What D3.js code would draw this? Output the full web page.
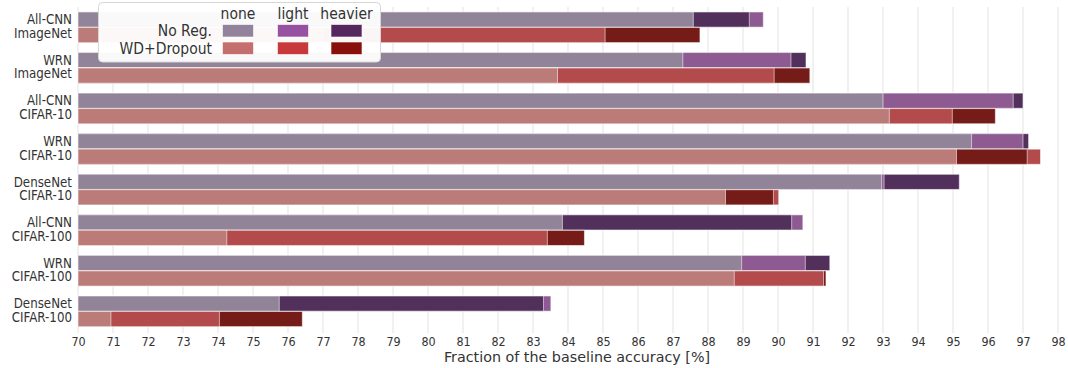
<!DOCTYPE html>
<html>
<head>
<meta charset="utf-8">
<script src="https://cdn.jsdelivr.net/npm/d3@7"></script>
<style>
  body { margin: 0; background: #fff; }
  svg { font-family: "DejaVu Sans", sans-serif; }
</style>
</head>
<body>
<svg id="chart" width="1068" height="368"></svg>
<script>
// models / datasets (one group per pair)
var models = ["All-CNN", "WRN", "All-CNN", "WRN", "DenseNet", "All-CNN", "WRN", "DenseNet"];
var datasets = ["ImageNet", "ImageNet", "CIFAR-10", "CIFAR-10", "CIFAR-10", "CIFAR-100", "CIFAR-100", "CIFAR-100"];

// No Reg. series
var noRegNone    = [87.58, 87.28, 93.00, 95.53, 92.96, 83.84, 88.96, 75.75];
var noRegLight   = [89.58, 90.37, 96.72, 97.00, 93.03, 90.71, 90.78, 83.51];
var noRegHeavier = [89.18, 90.80, 97.00, 97.16, 95.18, 90.39, 91.48, 83.30];

// WD+Dropout series
var wdNone    = [77.00, 83.70, 93.18, 95.10, 88.50, 74.25, 88.75, 70.94];
var wdLight   = [85.06, 89.89, 94.98, 97.50, 90.02, 83.41, 91.30, 74.04];
var wdHeavier = [87.77, 90.91, 96.21, 97.12, 89.87, 84.47, 91.37, 76.41];

var xTicks = d3.range(70, 99);
var levels = ["none", "light", "heavier"];
var seriesNames = ["No Reg.", "WD+Dropout"];

var barColors = {
  "No Reg.":    {none: "#928498", light: "#8d5a92", heavier: "#51305c"},
  "WD+Dropout": {none: "#bb7b79", light: "#b34b4c", heavier: "#761c18"}
};
var legendColors = {
  "No Reg.":    {none: "#92829c", light: "#9651a0", heavier: "#54275f"},
  "WD+Dropout": {none: "#c46e6e", light: "#c8393b", heavier: "#880f0b"}
};

var svg = d3.select("#chart");
var x = d3.scaleLinear().domain([70, 98]).range([78, 1058]);

var y = d3.scaleBand()
  .domain(d3.range(models.length))
  .range([7, 331.6])
  .paddingInner(0.23)
  .paddingOuter(0.115);

var sub = d3.scaleBand()
  .domain(seriesNames)
  .range([0, y.bandwidth()])
  .padding(0.02);

// grid
svg.append("g").selectAll("line")
  .data(xTicks)
  .enter().append("line")
  .attr("x1", function(d) { return x(d); })
  .attr("x2", function(d) { return x(d); })
  .attr("y1", 7)
  .attr("y2", 333)
  .attr("stroke", "#e3e3e3")
  .attr("stroke-width", 1);

// x axis
var xAxis = svg.append("g")
  .attr("transform", "translate(0,333)")
  .call(d3.axisBottom(x).tickValues(xTicks).tickFormat(d3.format("d")).tickSize(0).tickPadding(4));
xAxis.select(".domain").remove();
xAxis.selectAll("text")
  .attr("font-size", 12.7)
  .attr("font-family", "DejaVu Sans")
  .attr("fill", "#333")
  .attr("transform", "scale(0.88,1)");

svg.append("text")
  .attr("x", 577)
  .attr("y", 362)
  .attr("text-anchor", "middle")
  .attr("font-size", 14.3)
  .attr("fill", "#333")
  .text("Fraction of the baseline accuracy [%]");

// bars
var rows = [];
models.forEach(function(m, i) {
  var vals = {
    "No Reg.": [["none", noRegNone[i]], ["light", noRegLight[i]], ["heavier", noRegHeavier[i]]],
    "WD+Dropout": [["none", wdNone[i]], ["light", wdLight[i]], ["heavier", wdHeavier[i]]]
  };
  seriesNames.forEach(function(s) {
    // longest first so shorter ones sit on top
    vals[s].slice().sort(function(a, b) { return b[1] - a[1]; }).forEach(function(v) {
      rows.push({group: i, series: s, level: v[0], value: v[1]});
    });
  });
});

svg.append("g").selectAll("rect")
  .data(rows)
  .enter().append("rect")
  .attr("x", x(70))
  .attr("y", function(d) { return y(d.group) + sub(d.series); })
  .attr("width", function(d) { return x(d.value) - x(70); })
  .attr("height", sub.bandwidth())
  .attr("fill", function(d) { return barColors[d.series][d.level]; })
  .attr("stroke", "#fff")
  .attr("stroke-opacity", 0.55)
  .attr("stroke-width", 1);

// y labels (slightly condensed like the reference)
var ylab = svg.append("g").selectAll("g")
  .data(models)
  .enter().append("g")
  .attr("transform", function(d, i) {
    return "translate(72," + (y(i) + y.bandwidth() / 2) + ") scale(0.9,1)";
  });
ylab.append("text")
  .attr("text-anchor", "end")
  .attr("font-size", 13.2)
  .attr("fill", "#333")
  .attr("y", -3)
  .text(function(d) { return d; });
ylab.append("text")
  .attr("text-anchor", "end")
  .attr("font-size", 13.2)
  .attr("fill", "#333")
  .attr("y", 10.6)
  .text(function(d, i) { return datasets[i]; });

// legend
var lg = svg.append("g");
lg.append("rect")
  .attr("x", 98.5).attr("y", 2.5)
  .attr("width", 282).attr("height", 59.5)
  .attr("rx", 4)
  .attr("fill", "#fff")
  .attr("fill-opacity", 0.95)
  .attr("stroke", "#d6d6d6");

var colX = {none: 222.5, light: 277.5, heavier: 331};
var rowY = {"No Reg.": 24.5, "WD+Dropout": 42};

lg.selectAll(".hdr")
  .data(levels)
  .enter().append("text")
  .attr("transform", function(d) { return "translate(" + (colX[d] + 15.5) + ",18.5) scale(0.93,1)"; })
  .attr("text-anchor", "middle")
  .attr("font-size", 15)
  .attr("fill", "#333")
  .text(function(d) { return d; });

lg.selectAll(".rowlab")
  .data(seriesNames)
  .enter().append("text")
  .attr("transform", function(d) { return "translate(212," + (rowY[d] + 11.5) + ") scale(0.93,1)"; })
  .attr("text-anchor", "end")
  .attr("font-size", 15)
  .attr("fill", "#333")
  .text(function(d) { return d; });

seriesNames.forEach(function(s) {
  lg.selectAll(null)
    .data(levels)
    .enter().append("rect")
    .attr("x", function(d) { return colX[d]; })
    .attr("y", rowY[s])
    .attr("width", 31)
    .attr("height", 12.5)
    .attr("fill", function(d) { return legendColors[s][d]; })
    .attr("stroke", "#fff")
    .attr("stroke-opacity", 0.6);
});
</script>
</body>
</html>
